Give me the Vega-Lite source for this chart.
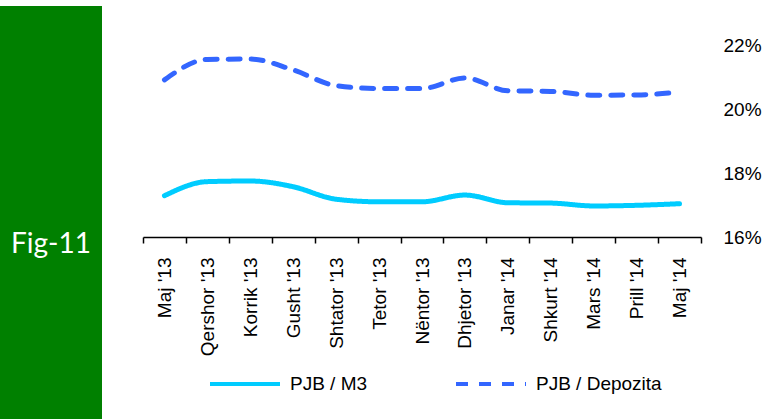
{
  "$schema": "https://vega.github.io/schema/vega-lite/v6.json",
  "padding": {"top": 6, "left": 0, "right": 0, "bottom": 0},
  "background": "white",
  "spacing": 32,
  "config": {"view": {"stroke": null}, "font": "Liberation Sans"},
  "hconcat": [
    {
      "width": 102,
      "height": 413,
      "view": {"fill": "#008000", "stroke": null},
      "data": {"values": [{"label": "Fig-11"}]},
      "mark": {"type": "text", "color": "white", "font": "Lato", "fontSize": 28, "dy": 32},
      "encoding": {"text": {"field": "label"}}
    },
    {
      "width": 558,
      "height": 231,
      "data": {
        "values": [
          {"month": "Maj '13", "series": "PJB / M3", "value": 0.1729},
          {"month": "Qershor '13", "series": "PJB / M3", "value": 0.1773},
          {"month": "Korrik '13", "series": "PJB / M3", "value": 0.1775},
          {"month": "Gusht '13", "series": "PJB / M3", "value": 0.1757},
          {"month": "Shtator '13", "series": "PJB / M3", "value": 0.1718},
          {"month": "Tetor '13", "series": "PJB / M3", "value": 0.1710},
          {"month": "Nëntor '13", "series": "PJB / M3", "value": 0.1710},
          {"month": "Dhjetor '13", "series": "PJB / M3", "value": 0.1731},
          {"month": "Janar '14", "series": "PJB / M3", "value": 0.1707},
          {"month": "Shkurt '14", "series": "PJB / M3", "value": 0.1706},
          {"month": "Mars '14", "series": "PJB / M3", "value": 0.1697},
          {"month": "Prill '14", "series": "PJB / M3", "value": 0.1699},
          {"month": "Maj '14", "series": "PJB / M3", "value": 0.1704},
          {"month": "Maj '13", "series": "PJB / Depozita", "value": 0.2091},
          {"month": "Qershor '13", "series": "PJB / Depozita", "value": 0.2155},
          {"month": "Korrik '13", "series": "PJB / Depozita", "value": 0.2156},
          {"month": "Gusht '13", "series": "PJB / Depozita", "value": 0.2122},
          {"month": "Shtator '13", "series": "PJB / Depozita", "value": 0.2073},
          {"month": "Tetor '13", "series": "PJB / Depozita", "value": 0.2064},
          {"month": "Nëntor '13", "series": "PJB / Depozita", "value": 0.2064},
          {"month": "Dhjetor '13", "series": "PJB / Depozita", "value": 0.2097},
          {"month": "Janar '14", "series": "PJB / Depozita", "value": 0.2057},
          {"month": "Shkurt '14", "series": "PJB / Depozita", "value": 0.2055},
          {"month": "Mars '14", "series": "PJB / Depozita", "value": 0.2043},
          {"month": "Prill '14", "series": "PJB / Depozita", "value": 0.2044},
          {"month": "Maj '14", "series": "PJB / Depozita", "value": 0.2053}
        ]
      },
      "mark": {"type": "line", "interpolate": "monotone", "strokeWidth": 5, "strokeCap": "round"},
      "encoding": {
        "x": {
          "field": "month", "type": "ordinal", "sort": null, "bandPosition": 0.5,
          "scale": {"type": "band", "paddingInner": 0, "paddingOuter": 0},
          "axis": {"title": null, "labelAngle": -90, "tickBand": "extent", "domainColor": "black", "tickColor": "black", "tickSize": 6, "labelFontSize": 19, "labelColor": "black", "labelPadding": 14, "domainWidth": 1.5, "tickWidth": 1.5}
        },
        "y": {
          "field": "value", "type": "quantitative",
          "scale": {"domain": [0.16, 0.2321875], "zero": false, "nice": false},
          "axis": {"orient": "right", "values": [0.16, 0.18, 0.2, 0.22], "format": ".0%", "grid": false, "domain": false, "ticks": false, "title": null, "labelFontSize": 19, "labelPadding": 22, "labelColor": "black"}
        },
        "color": {
          "field": "series", "type": "nominal",
          "scale": {"domain": ["PJB / M3", "PJB / Depozita"], "range": ["#00ccff", "#3366ff"]},
          "legend": {"title": null, "orient": "none", "legendX": 208, "legendY": 341, "direction": "horizontal", "symbolType": "stroke", "symbolSize": 4900, "symbolStrokeWidth": 4, "labelFontSize": 19, "labelColor": "black", "columnPadding": 80, "labelOffset": 8}
        },
        "strokeDash": {
          "field": "series", "type": "nominal",
          "scale": {"domain": ["PJB / M3", "PJB / Depozita"], "range": [[1, 0], [12, 11]]},
          "legend": {"title": null, "orient": "none", "legendX": 208, "legendY": 341, "direction": "horizontal", "symbolType": "stroke", "symbolSize": 4900, "symbolStrokeWidth": 4, "labelFontSize": 19, "labelColor": "black", "columnPadding": 80, "labelOffset": 8}
        }
      }
    }
  ]
}
